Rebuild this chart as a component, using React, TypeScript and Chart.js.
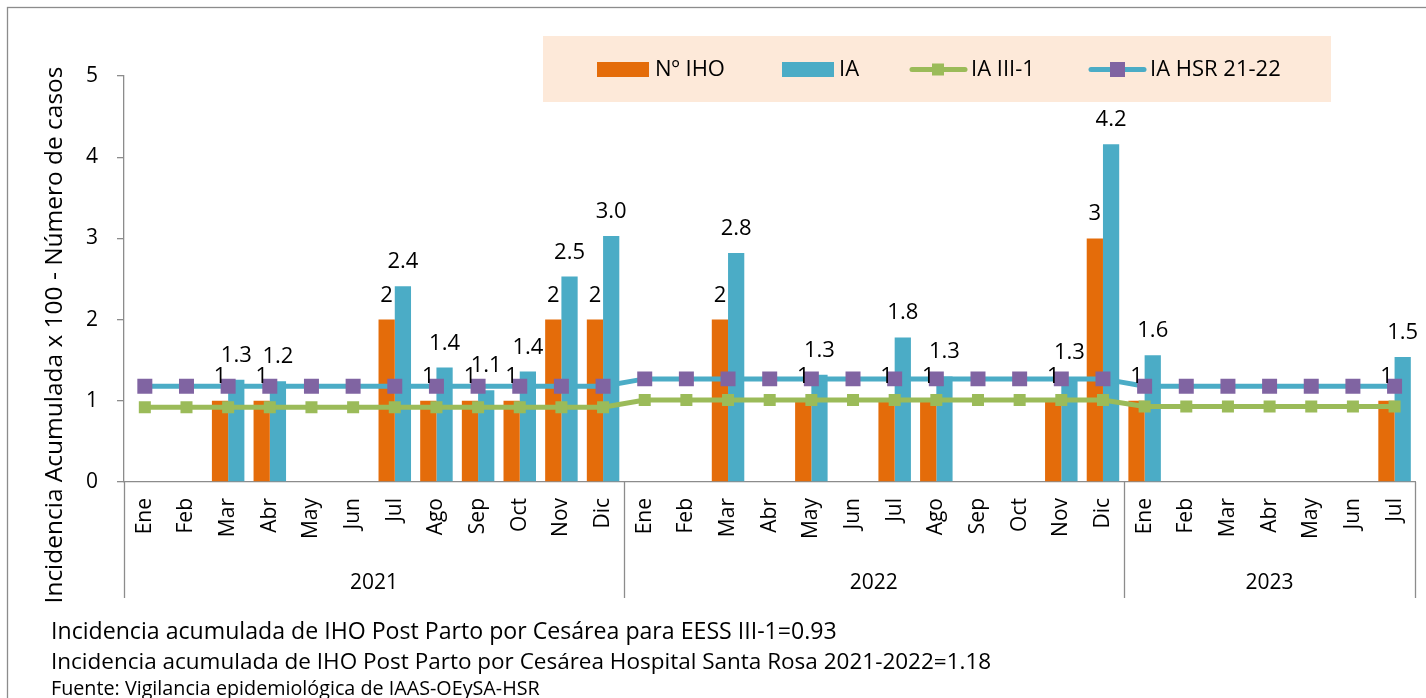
import React, { useEffect, useRef } from 'react';
import { Chart, registerables } from 'chart.js';

Chart.register(...registerables);

const months = [
  'Ene', 'Feb', 'Mar', 'Abr', 'May', 'Jun', 'Jul', 'Ago', 'Sep', 'Oct', 'Nov', 'Dic',
  'Ene', 'Feb', 'Mar', 'Abr', 'May', 'Jun', 'Jul', 'Ago', 'Sep', 'Oct', 'Nov', 'Dic',
  'Ene', 'Feb', 'Mar', 'Abr', 'May', 'Jun', 'Jul',
];
const yearLabels = ['2021', '2022', '2023'];
const yearMonthCounts = [12, 12, 7];
const yTicks = [0, 1, 2, 3, 4, 5];

const nIHO = [
  0, 0, 1, 1, 0, 0, 2, 1, 1, 1, 2, 2,
  0, 0, 2, 0, 1, 0, 1, 1, 0, 0, 1, 3,
  1, 0, 0, 0, 0, 0, 1,
];
const iaValues = [
  0, 0, 1.26, 1.24, 0, 0, 2.41, 1.41, 1.13, 1.36, 2.53, 3.03,
  0, 0, 2.82, 0, 1.32, 0, 1.78, 1.3, 0, 0, 1.29, 4.16,
  1.56, 0, 0, 0, 0, 0, 1.54,
];
const iaIII1 = [
  0.92, 0.92, 0.92, 0.92, 0.92, 0.92, 0.92, 0.92, 0.92, 0.92, 0.92, 0.92,
  1.01, 1.01, 1.01, 1.01, 1.01, 1.01, 1.01, 1.01, 1.01, 1.01, 1.01, 1.01,
  0.93, 0.93, 0.93, 0.93, 0.93, 0.93, 0.93,
];
const iaHSR = [
  1.18, 1.18, 1.18, 1.18, 1.18, 1.18, 1.18, 1.18, 1.18, 1.18, 1.18, 1.18,
  1.27, 1.27, 1.27, 1.27, 1.27, 1.27, 1.27, 1.27, 1.27, 1.27, 1.27, 1.27,
  1.18, 1.18, 1.18, 1.18, 1.18, 1.18, 1.18,
];
const seriesNames = ['Nº IHO', 'IA', 'IA III-1', 'IA HSR 21-22'];
const yTitle = 'Incidencia Acumulada x 100 - Número de casos';
const footerLines = [
  'Incidencia acumulada de IHO Post Parto por Cesárea para EESS III-1=0.93',
  'Incidencia acumulada de IHO Post Parto por Cesárea Hospital Santa Rosa 2021-2022=1.18',
  'Fuente: Vigilancia epidemiológica de IAAS-OEySA-HSR',
];

const FONT = '"Open Sans", sans-serif';
const ORANGE = '#E46C0A';
const BLUE = '#4BACC6';
const GREEN = '#9BBB59';
const PURPLE = '#8064A2';
const AXIS = '#8C8C8C';

function fitFont(ctx: CanvasRenderingContext2D, text: string, target: number, base: number) {
  ctx.font = `${base}px ${FONT}`;
  const w = ctx.measureText(text).width;
  return (base * target) / w;
}

const decorPlugin = {
  id: 'decor',
  beforeDraw(chart: any) {
    const { ctx, width, height } = chart;
    ctx.save();
    ctx.fillStyle = '#ffffff';
    ctx.fillRect(0, 0, width, height);
    ctx.restore();
  },
  afterDatasetsDraw(chart: any) {
    const { ctx } = chart;
    ctx.save();
    ctx.fillStyle = '#000';
    ctx.font = `22px ${FONT}`;
    ctx.textAlign = 'center';
    ctx.textBaseline = 'alphabetic';
    [0, 1].forEach((di) => {
      const meta = chart.getDatasetMeta(di);
      const vals = chart.data.datasets[di].data as number[];
      meta.data.forEach((el: any, i: number) => {
        const v = vals[i];
        if (!v) return;
        const txt = di === 0 ? String(v) : v.toFixed(1);
        ctx.fillText(txt, el.x, el.y - 18);
      });
    });
    ctx.restore();
  },
  afterDraw(chart: any) {
    const { ctx, chartArea } = chart;
    const xs = chart.scales.x;
    const half = (xs.getPixelForTick(1) - xs.getPixelForTick(0)) / 2;
    ctx.save();
    ctx.strokeStyle = AXIS;
    ctx.lineWidth = 1.3;
    let start = 0;
    const bounds: number[] = [xs.getPixelForTick(0) - half];
    yearMonthCounts.forEach((n, gi) => {
      const left = xs.getPixelForTick(start) - half;
      const right = xs.getPixelForTick(start + n - 1) + half;
      bounds.push(right);
      ctx.fillStyle = '#000';
      ctx.font = `21px ${FONT}`;
      ctx.textAlign = 'center';
      ctx.textBaseline = 'alphabetic';
      ctx.fillText(yearLabels[gi], (left + right) / 2, 589);
      start += n;
    });
    bounds.forEach((bx) => {
      ctx.beginPath();
      ctx.moveTo(Math.round(bx) + 0.5, chartArea.bottom);
      ctx.lineTo(Math.round(bx) + 0.5, 598);
      ctx.stroke();
    });

    const ts = fitFont(ctx, yTitle, 537, 20);
    ctx.save();
    ctx.translate(62, 335);
    ctx.rotate(-Math.PI / 2);
    ctx.font = `${ts}px ${FONT}`;
    ctx.fillStyle = '#000';
    ctx.textAlign = 'center';
    ctx.textBaseline = 'alphabetic';
    ctx.fillText(yTitle, 0, 0);
    ctx.restore();

    ctx.fillStyle = '#FDE9D9';
    ctx.fillRect(543, 36, 788, 66);
    ctx.font = `22px ${FONT}`;
    ctx.textAlign = 'left';
    ctx.textBaseline = 'middle';
    ctx.fillStyle = ORANGE;
    ctx.fillRect(597, 62, 52, 15);
    ctx.fillStyle = BLUE;
    ctx.fillRect(782, 62, 52, 15);
    ctx.lineCap = 'round';
    ctx.lineWidth = 5;
    ctx.strokeStyle = GREEN;
    ctx.beginPath();
    ctx.moveTo(912, 69.5);
    ctx.lineTo(965, 69.5);
    ctx.stroke();
    ctx.fillStyle = GREEN;
    ctx.fillRect(932, 63.5, 12, 12);
    ctx.strokeStyle = BLUE;
    ctx.beginPath();
    ctx.moveTo(1091, 69.5);
    ctx.lineTo(1144, 69.5);
    ctx.stroke();
    ctx.fillStyle = PURPLE;
    ctx.fillRect(1110, 62, 15, 15);
    ctx.fillStyle = '#000';
    ctx.fillText(seriesNames[0], 655, 70);
    ctx.fillText(seriesNames[1], 839, 70);
    ctx.fillText(seriesNames[2], 971, 70);
    ctx.fillText(seriesNames[3], 1150, 70);

    ctx.textBaseline = 'alphabetic';
    const targets = [786, 941, 489];
    const baselines = [639, 669, 695];
    footerLines.forEach((line, i) => {
      const s = fitFont(ctx, line, targets[i], 20);
      ctx.font = `${s}px ${FONT}`;
      ctx.fillStyle = '#000';
      ctx.fillText(line, 51, baselines[i]);
    });

    ctx.strokeStyle = '#8C8C8C';
    ctx.lineWidth = 1.3;
    ctx.strokeRect(7.5, 7.5, 1430, 700);
    ctx.restore();
  },
};

export default function App() {
  const ref = useRef<HTMLCanvasElement | null>(null);
  useEffect(() => {
    if (!ref.current) return;
    const chart = new Chart(ref.current, {
      type: 'bar',
      data: {
        labels: months,
        datasets: [
          {
            type: 'bar',
            label: seriesNames[0],
            data: nIHO,
            backgroundColor: ORANGE,
            borderWidth: 0,
            order: 2,
            categoryPercentage: 0.78,
            barPercentage: 1.0,
          },
          {
            type: 'bar',
            label: seriesNames[1],
            data: iaValues,
            backgroundColor: BLUE,
            borderWidth: 0,
            order: 2,
            categoryPercentage: 0.78,
            barPercentage: 1.0,
          },
          {
            type: 'line',
            label: seriesNames[2],
            data: iaIII1,
            borderColor: GREEN,
            borderWidth: 5,
            pointStyle: 'rect',
            pointRadius: 8.5,
            pointBackgroundColor: GREEN,
            pointBorderColor: GREEN,
            pointBorderWidth: 0,
            tension: 0,
            order: 1,
          },
          {
            type: 'line',
            label: seriesNames[3],
            data: iaHSR,
            borderColor: BLUE,
            borderWidth: 5,
            pointStyle: 'rect',
            pointRadius: 10.6,
            pointBackgroundColor: PURPLE,
            pointBorderColor: PURPLE,
            pointBorderWidth: 0,
            tension: 0,
            order: 1,
          },
        ] as any,
      },
      options: {
        responsive: false,
        animation: false,
        devicePixelRatio: 1,
        layout: { padding: { left: 0, top: 76, right: 6, bottom: 0 } },
        plugins: {
          legend: { display: false },
          tooltip: { enabled: false },
          title: { display: false },
        },
        scales: {
          x: {
            type: 'category',
            offset: true,
            grid: { display: true, drawOnChartArea: false, drawTicks: false, color: 'rgba(0,0,0,0)' },
            border: { display: true, color: AXIS, width: 1.3 },
            ticks: {
              autoSkip: false,
              minRotation: 90,
              maxRotation: 90,
              padding: 16,
              color: '#000',
              font: { size: 21, family: FONT },
            },
            afterFit: (s: any) => {
              s.height = 216;
              s.paddingLeft = 0;
              s.paddingRight = 0;
            },
          },
          y: {
            min: 0,
            max: 5,
            afterBuildTicks: (s: any) => {
              s.ticks = yTicks.map((v) => ({ value: v }));
            },
            grid: { display: true, drawOnChartArea: false, drawTicks: true, tickLength: 7, color: AXIS, lineWidth: 1.3 },
            border: { display: true, color: AXIS, width: 1.3 },
            ticks: {
              padding: 19,
              color: '#000',
              font: { size: 21, family: FONT },
            },
            afterFit: (s: any) => {
              s.width = 124;
            },
          },
        },
      },
      plugins: [decorPlugin],
    });
    return () => chart.destroy();
  }, []);
  return (
    <div style={{ position: 'fixed', left: 0, top: 0, width: 1426, height: 698, background: '#fff' }}>
      <canvas ref={ref} width={1426} height={698} style={{ width: 1426, height: 698, display: 'block' }} />
    </div>
  );
}
